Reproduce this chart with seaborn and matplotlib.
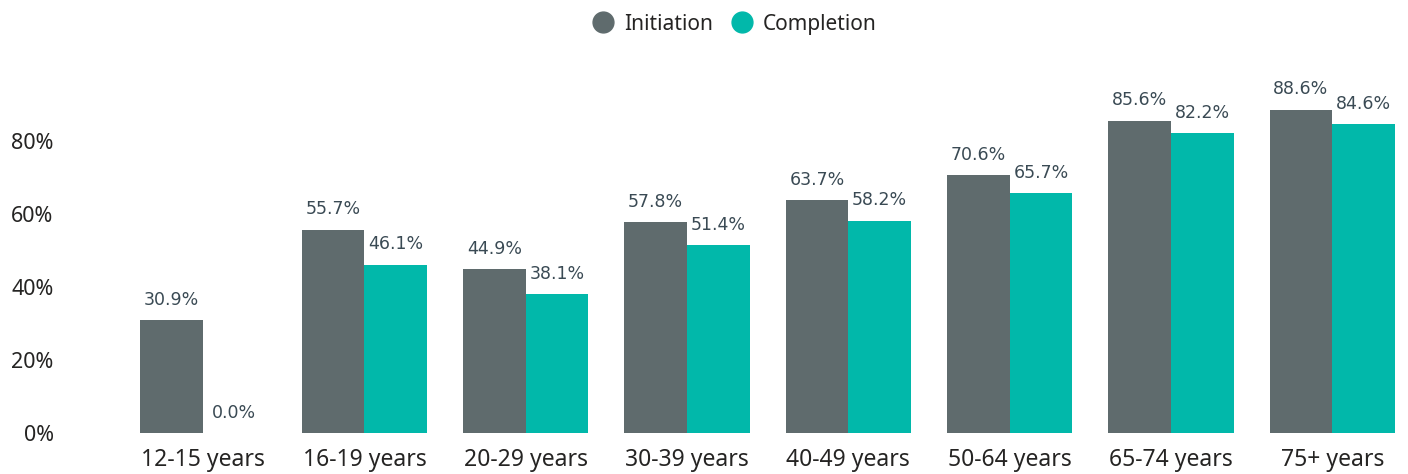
import matplotlib
matplotlib.use("Agg")
import matplotlib.pyplot as plt
import seaborn as sns
import pandas as pd
from matplotlib.lines import Line2D

categories = ["12-15 years", "16-19 years", "20-29 years", "30-39 years",
              "40-49 years", "50-64 years", "65-74 years", "75+ years"]
initiation = [30.9, 55.7, 44.9, 57.8, 63.7, 70.6, 85.6, 88.6]
completion = [0.0, 46.1, 38.1, 51.4, 58.2, 65.7, 82.2, 84.6]
series_names = ["Initiation", "Completion"]
colors = ["#5F6B6D", "#01B8AA"]
yticks = [0, 20, 40, 60, 80]

df = pd.DataFrame({
    "Age": categories * 2,
    "Series": [series_names[0]] * len(categories) + [series_names[1]] * len(categories),
    "Value": initiation + completion,
})

sns.set_theme(style="white")
plt.rcParams['font.family'] = ['Noto Sans', 'DejaVu Sans']

fig = plt.figure(figsize=(14.08, 4.74), dpi=100)
ax = fig.add_axes([130 / 1408, (474 - 433) / 474, (1400 - 130) / 1408, (433 - 68) / 474])

sns.barplot(data=df, x="Age", y="Value", hue="Series", order=categories,
            hue_order=series_names, palette=colors, width=0.776, ax=ax,
            saturation=1, legend=False, edgecolor="none", linewidth=0)

ax.set_xlim(-0.453, 7.42)
ax.set_ylim(0, 100)
ax.set_yticks(yticks)
ax.set_yticklabels([f"{v}%" for v in yticks])
ax.set_xlabel("")
ax.set_ylabel("")
for s in ax.spines.values():
    s.set_visible(False)
ax.tick_params(axis="y", length=0, pad=55, labelsize=15.5, labelcolor="#252423")
ax.tick_params(axis="x", length=0, pad=11, labelsize=16.5, labelcolor="#252423")
for lbl in ax.get_yticklabels():
    lbl.set_horizontalalignment("right")
ax.grid(False)

for container in ax.containers:
    for bar in container:
        h = bar.get_height()
        ax.annotate(f"{h:.1f}%", (bar.get_x() + bar.get_width() / 2, h),
                    xytext=(0, 11), textcoords="offset points",
                    ha="center", va="baseline", fontsize=12.5,
                    color="#3A4A54", family="DejaVu Sans")

handles = [Line2D([0], [0], marker="o", linestyle="none", markersize=15,
                  markerfacecolor=c, markeredgecolor=c) for c in colors]
fig.legend(handles, series_names, loc="center", bbox_to_anchor=(0.518, 0.949),
           ncol=2, frameon=False, fontsize=15, handletextpad=0.0,
           columnspacing=0.4, labelcolor="#252423")

fig.savefig("out.png", dpi=100)
